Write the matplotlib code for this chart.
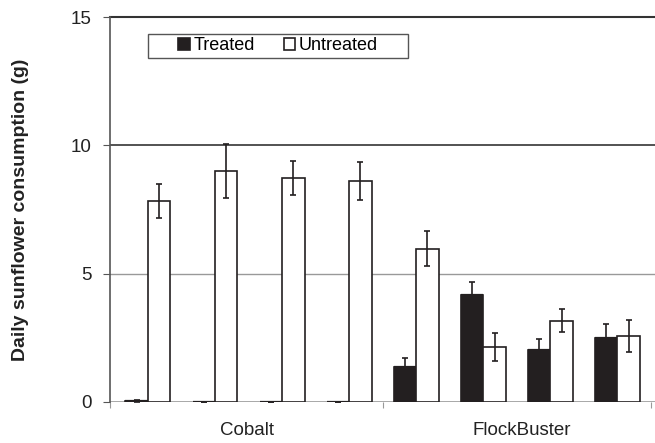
import matplotlib.pyplot as plt
from matplotlib.patches import Rectangle
import numpy as np

plt.rcParams['font.family'] = ['Liberation Sans', 'DejaVu Sans']

# values
groups = ['Cobalt', 'Cobalt', 'Cobalt', 'Cobalt',
          'FlockBuster', 'FlockBuster', 'FlockBuster', 'FlockBuster']
treated = [0.03, 0.0, 0.0, 0.0, 1.35, 4.17, 2.03, 2.48]
treated_err = [0.04, 0.0, 0.0, 0.0, 0.36, 0.50, 0.44, 0.57]
untreated = [7.83, 9.01, 8.74, 8.61, 5.98, 2.15, 3.17, 2.57]
untreated_err = [0.65, 1.06, 0.66, 0.74, 0.67, 0.55, 0.44, 0.62]
group_labels = ['Cobalt', 'FlockBuster']

fig = plt.figure(figsize=(6.55, 4.43), dpi=100)
ax = fig.add_axes([110/655, 41/443, 545/655, 385/443])

x = np.arange(len(treated))
w = 0.335

ax.bar(x - w/2, treated, w, color='#231f20', edgecolor='#231f20', linewidth=1.2,
       label='Treated', zorder=3)
ax.bar(x + w/2, untreated, w, color='white', edgecolor='#231f20', linewidth=1.2,
       label='Untreated', zorder=3)
# near-zero treated bars still show as a dark line on the baseline
ax.hlines(treated, x - w, x, color='#231f20', linewidth=1.6, zorder=3)
ax.errorbar(x - w/2, treated, yerr=treated_err, fmt='none', ecolor='#231f20',
            elinewidth=1.2, capsize=2.5, capthick=1.2, zorder=4)
ax.errorbar(x + w/2, untreated, yerr=untreated_err, fmt='none', ecolor='#231f20',
            elinewidth=1.2, capsize=2.5, capthick=1.2, zorder=4)

ax.set_xlim(-0.566, 7.56)
ax.set_ylim(0, 15)

# horizontal lines
ax.axhline(5, color='#999999', linewidth=1, zorder=1)
ax.axhline(10, color='#444444', linewidth=1.3, zorder=1)
ax.axhline(15, color='#333333', linewidth=1.5, zorder=1, clip_on=False)
ax.axhline(0, color='#999999', linewidth=1.2, zorder=2)

for s in ['top', 'right', 'bottom']:
    ax.spines[s].set_visible(False)
ax.spines['left'].set_color('#555555')
ax.spines['left'].set_linewidth(1.2)

ax.set_yticks([0, 5, 10, 15])
ax.tick_params(axis='y', labelsize=13.5, length=5, color='#555555', pad=8,
               labelcolor='#222222')

ax.set_xticks([-0.566, 3.5, 7.5])
ax.set_xticklabels(['', '', ''])
ax.tick_params(axis='x', length=4, color='#999999')
ax.text(1.47, -1.1, group_labels[0], ha='center', va='center', fontsize=13.5,
        color='#222222')
ax.text(5.57, -1.1, group_labels[1], ha='center', va='center', fontsize=13.5,
        color='#222222')

ax.set_ylabel('Daily sunflower consumption (g)', fontsize=14, fontweight='bold',
              color='#222222', labelpad=30)

# legend box drawn separately so the padding matches
ax.add_patch(Rectangle((0.0697, 0.8935), 0.477, 0.0625, transform=ax.transAxes,
                       facecolor='white', edgecolor='#555555', linewidth=1,
                       zorder=5))
leg = ax.legend(loc='center left', bbox_to_anchor=(0.1248, 0.925), ncol=2,
                fontsize=13, frameon=False, handlelength=0.65, handleheight=0.65,
                handletextpad=0.2, columnspacing=1.6, borderpad=0,
                borderaxespad=0)
leg.set_zorder(6)

fig.savefig('out.png', dpi=100)
